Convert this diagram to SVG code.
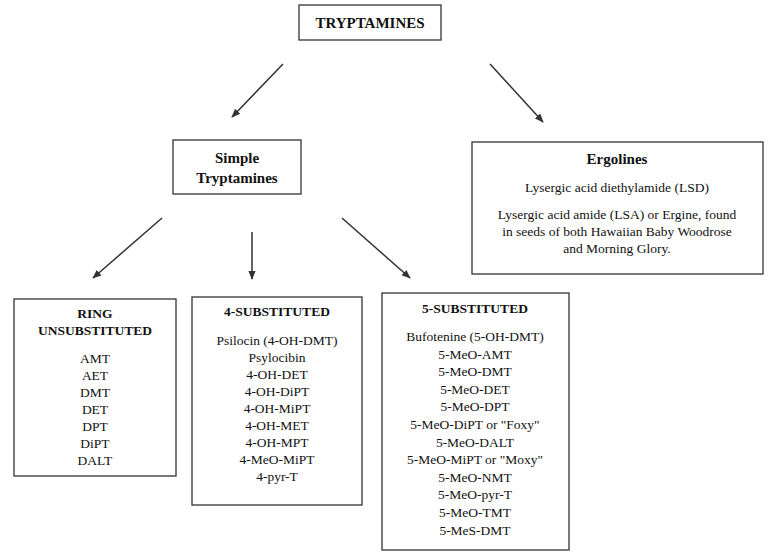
<svg xmlns="http://www.w3.org/2000/svg" width="782" height="556" viewBox="0 0 782 556">
<style>
rect{fill:#fff;stroke:#333;stroke-width:1.3}
text{font-family:"Liberation Serif",serif;font-size:13.5px;text-anchor:middle;fill:#111}
.b{font-weight:bold}
.c line{stroke:#333;stroke-width:1.5;marker-end:url(#a)}
</style>
<defs><marker id="a" viewBox="0 0 10 10" refX="9" refY="5" markerWidth="9" markerHeight="9" markerUnits="userSpaceOnUse" orient="auto"><path d="M0,1 L10,5 L0,9z" fill="#333"/></marker></defs>
<rect width="782" height="556" style="stroke:none"/>
<g class="c">
<line x1="283" y1="64" x2="232" y2="117"/>
<line x1="490" y1="64" x2="543" y2="122"/>
<line x1="162" y1="218" x2="93" y2="278"/>
<line x1="252" y1="232" x2="252" y2="279"/>
<line x1="342" y1="218" x2="410" y2="278"/>
</g>
<g id="tryptamines"><rect x="299" y="5" width="142" height="35"/><text class="b" x="370" y="28" style="font-size:15px">TRYPTAMINES</text></g>
<g id="simple"><rect x="173" y="140" width="128" height="54"/><text class="b" x="237" y="163" style="font-size:15px">Simple</text><text class="b" x="237" y="183" style="font-size:15px">Tryptamines</text></g>
<g id="ergolines"><rect x="472" y="142" width="291" height="132"/><text class="b" x="617" y="164" style="font-size:15px">Ergolines</text>
<text x="617" y="192">Lysergic acid diethylamide (LSD)</text>
<text x="617" y="219">Lysergic acid amide (LSA) or Ergine, found</text>
<text x="617" y="236">in seeds of both Hawaiian Baby Woodrose</text>
<text x="617" y="253">and Morning Glory.</text></g>
<g id="ring"><rect x="14" y="299" width="162" height="177"/>
<text class="b" x="95" y="318">RING</text><text class="b" x="95" y="335">UNSUBSTITUTED</text>
<text x="95" y="363">AMT</text><text x="95" y="380">AET</text><text x="95" y="397">DMT</text><text x="95" y="414">DET</text><text x="95" y="431">DPT</text><text x="95" y="448">DiPT</text><text x="95" y="465">DALT</text></g>
<g id="four"><rect x="192" y="297" width="170" height="208"/>
<text class="b" x="277" y="316">4-SUBSTITUTED</text>
<text x="277" y="345">Psilocin (4-OH-DMT)</text><text x="277" y="362">Psylocibin</text><text x="277" y="379">4-OH-DET</text><text x="277" y="396">4-OH-DiPT</text><text x="277" y="413">4-OH-MiPT</text><text x="277" y="430">4-OH-MET</text><text x="277" y="447">4-OH-MPT</text><text x="277" y="464">4-MeO-MiPT</text><text x="277" y="481">4-pyr-T</text></g>
<g id="five"><rect x="382" y="293" width="187" height="257"/>
<text class="b" x="475" y="313">5-SUBSTITUTED</text>
<text x="475" y="341">Bufotenine (5-OH-DMT)</text><text x="475" y="358.6">5-MeO-AMT</text><text x="475" y="376.2">5-MeO-DMT</text><text x="475" y="393.8">5-MeO-DET</text><text x="475" y="411.4">5-MeO-DPT</text><text x="475" y="429">5-MeO-DiPT  or "Foxy"</text><text x="475" y="446.6">5-MeO-DALT</text><text x="475" y="464.2">5-MeO-MiPT  or "Moxy"</text><text x="475" y="481.8">5-MeO-NMT</text><text x="475" y="499.4">5-MeO-pyr-T</text><text x="475" y="517">5-MeO-TMT</text><text x="475" y="534.6">5-MeS-DMT</text></g>
</svg>
